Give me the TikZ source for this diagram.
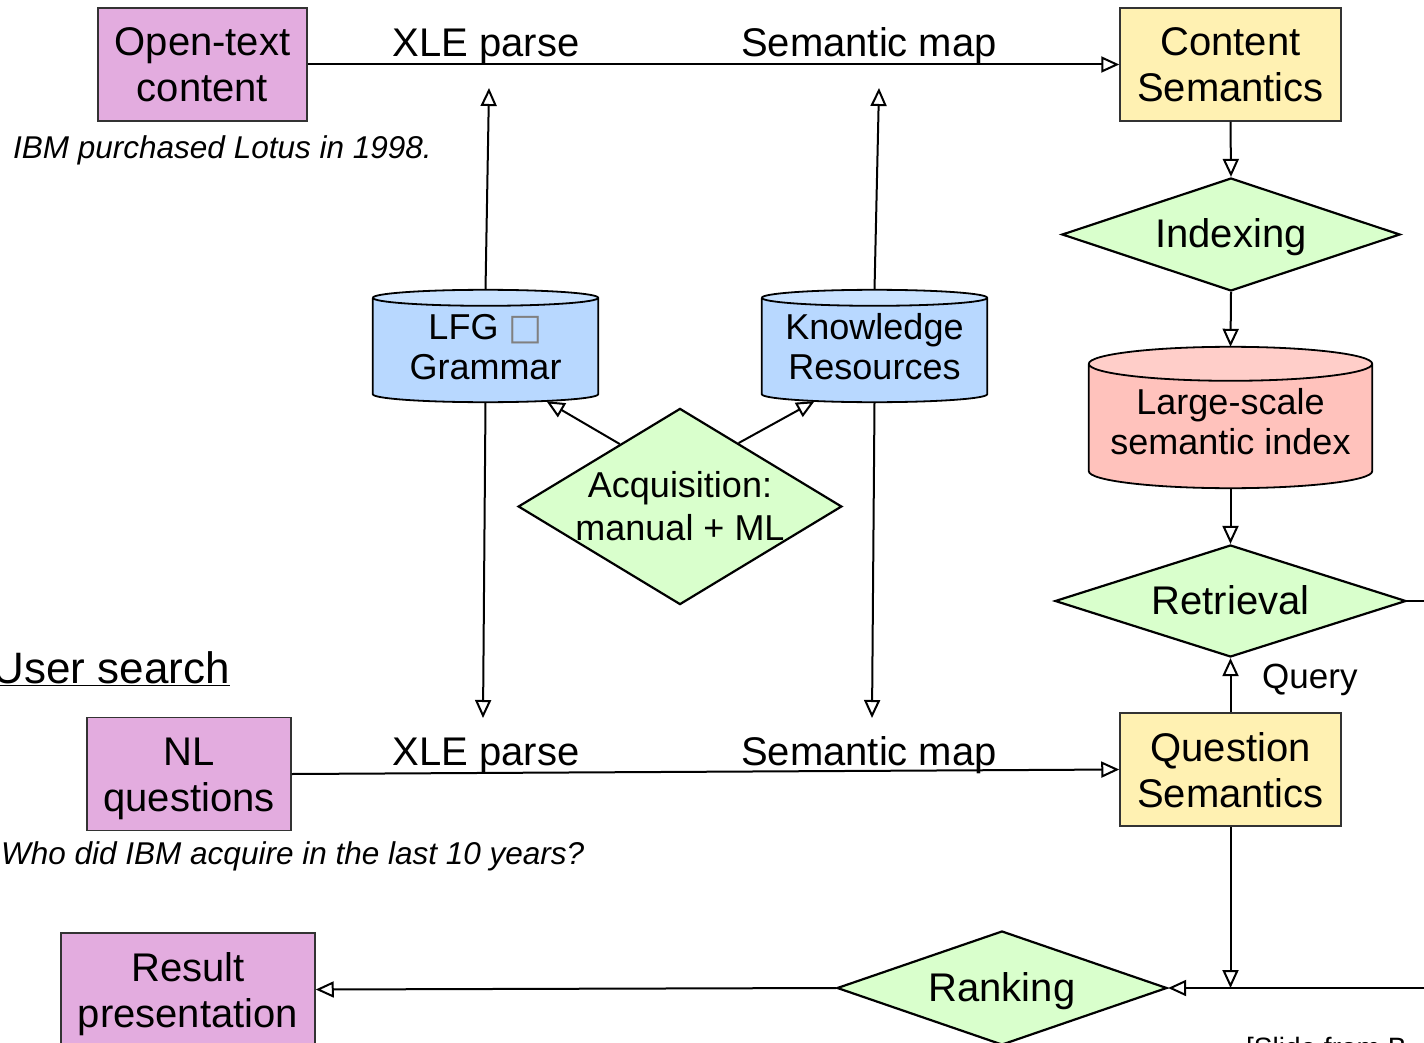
\documentclass[tikz,border=0pt]{standalone}
\usepackage{fontspec}
\setmainfont{Liberation Sans}
\newfontfamily\dvfont{DejaVu Sans}
\usetikzlibrary{shapes.geometric,arrows.meta,calc,backgrounds}
\definecolor{pinkc}{HTML}{E3ACDF}
\definecolor{yel}{HTML}{FFF1B2}
\definecolor{grn}{HTML}{D9FFCC}
\definecolor{blu}{HTML}{B8D8FF}
\definecolor{blutop}{HTML}{C9E2FF}
\definecolor{sal}{HTML}{FFC2BC}
\definecolor{saltop}{HTML}{FFCEC9}
\newcommand\sA{\rule[-10pt]{0pt}{49pt}}
\newcommand\sB{\rule[-10pt]{0pt}{45pt}}
\newcommand\sC[1]{\rule[-8pt]{0pt}{#1}}
\newcommand\drawcyl[4]{%
  \fill[#2] let \p1=(#1.north west), \p2=(#1.south east), \n1={(\x2-\x1)/2} in
    ({\x1},{\y1-#4}) -- ({\x1},{\y2+#4}) arc[start angle=180,end angle=360,x radius={\n1*1pt},y radius=#4]
    -- ({\x2},{\y1-#4}) arc[start angle=0,end angle=180,x radius={\n1*1pt},y radius=#4] -- cycle;
  \fill[#3] let \p1=(#1.north west), \p2=(#1.south east), \n1={(\x2-\x1)/2} in
    ({\x1},{\y1-#4}) arc[start angle=180,end angle=540,x radius={\n1*1pt},y radius=#4];
  \draw[cylline] let \p1=(#1.north west), \p2=(#1.south east), \n1={(\x2-\x1)/2} in
    ({\x1},{\y1-#4}) -- ({\x1},{\y2+#4}) arc[start angle=180,end angle=360,x radius={\n1*1pt},y radius=#4]
    -- ({\x2},{\y1-#4}) arc[start angle=0,end angle=180,x radius={\n1*1pt},y radius=#4]
    ({\x1},{\y1-#4}) arc[start angle=180,end angle=360,x radius={\n1*1pt},y radius=#4];
}
\begin{document}
\begin{tikzpicture}[x=1pt,y=-1pt,
  box/.style={draw=black!80,line width=1.5pt,inner sep=0pt,align=center,font=\fontsize{40}{46}\selectfont},
  dia/.style={diamond,draw=black,line width=2.2pt,fill=grn,inner sep=0pt,align=center},
  one/.style={font=\fontsize{40}{46}\selectfont,text height=29pt,text depth=3pt},
  cylnode/.style={inner sep=0pt,align=center,font=\fontsize{36}{40}\selectfont},
  cylline/.style={draw=black,line width=1.8pt},
  arr/.style={line width=2pt,-{Triangle[length=18pt,width=16pt,fill=white]}},
  ln/.style={line width=2pt},
  lbl/.style={font=\fontsize{40}{46}\selectfont,anchor=base,inner sep=0pt},
  ital/.style={font=\fontsize{31.5}{36}\selectfont\itshape,anchor=base west,inner sep=0pt}]
\useasboundingbox (0,0) rectangle (1424,1043);
\clip (0,0) rectangle (1424,1043);

% boxes
\node[box,fill=pinkc,minimum width=209pt,minimum height=113pt] (otc) at (202.5,64.5) {\sA Open-text\\\sB content};
\node[box,fill=yel,minimum width=221pt,minimum height=113pt] (cs) at (1230.5,64.5) {\sA Content\\\sB Semantics};
\node[box,fill=pinkc,minimum width=204pt,minimum height=113pt] (nlq) at (189,774) {\sA NL\\\sB questions};
\node[box,fill=yel,minimum width=221pt,minimum height=113pt] (qs) at (1230.5,769.5) {\sA Question\\\sB Semantics};
\node[box,fill=pinkc,minimum width=254pt,minimum height=113pt] (res) at (188,989.5) {\sA Result\\\sB presentation};

% diamonds
\node[dia,one,aspect=3,minimum width=338pt,minimum height=113pt] (idx) at (1231,234.5) {Indexing};
\node[dia,one,aspect=3.1,minimum width=351pt,minimum height=112pt] (ret) at (1230.5,601) {Retrieval};
\node[dia,one,aspect=2.9,minimum width=330pt,minimum height=114pt] (rank) at (1002,988) {Ranking};
\node[dia,aspect=1.65,minimum width=322pt,minimum height=195pt,font=\fontsize{36}{43}\selectfont] (acq) at (680,506.5) {Acquisition:\\manual + ML};

% cylinders
\node[cylnode,minimum width=225pt,minimum height=112pt] (lfg) at (485.5,346) {\sC{43pt}LFG {\dvfont\color{gray}□}\\\sC{40pt}Grammar};
\node[cylnode,minimum width=225pt,minimum height=112pt] (kr) at (874.5,346) {\sC{43pt}Knowledge\\\sC{40pt}Resources};
\node[cylnode,minimum width=283pt,minimum height=141pt] (lsi) at (1230.5,417.5) {\sC{49pt}Large-scale\\\sC{40pt}semantic index};
\begin{pgfonlayer}{background}
\drawcyl{lfg}{blu}{blutop}{8pt}
\drawcyl{kr}{blu}{blutop}{8pt}
\drawcyl{lsi}{sal}{saltop}{17pt}
\end{pgfonlayer}

% labels
\node[lbl] (xle1) at (486,57) {XLE parse};
\node[lbl] (sem1) at (869,57) {Semantic map};
\node[lbl] (xle2) at (486,765) {XLE parse};
\node[lbl] (sem2) at (869,765) {Semantic map};
\node[ital] (ex1) at (13,158.5) {IBM purchased Lotus in 1998.};
\node[ital] (ex2) at (1,864) {Who did IBM acquire in the last 10 years?};
\node[font=\fontsize{44}{50}\selectfont,anchor=base east,inner sep=0pt] (us) at (230,683) {\underline{User search}};
\node[font=\fontsize{35}{40}\selectfont,anchor=base west,inner sep=0pt] (query) at (1262,688) {Query};
\node[font=\fontsize{28}{32}\selectfont,anchor=north west,inner sep=0pt] (slide) at (1246,1037) {[Slide from B};

% free ends
\coordinate (lfgUp) at (489,88);
\coordinate (krUp) at (879,88);
\coordinate (lfgDn) at (483,718);
\coordinate (krDn) at (872,718);
\coordinate (retR) at (1424,601);
\coordinate (rankR) at (1424,988);
\coordinate (qsDn) at (1230.5,988);

% connectors
\draw[arr] (otc.east) -- (cs.west);
\draw[arr] (nlq.east) -- (qs.west);
\draw[arr] (lfg.north) -- (lfgUp);
\draw[arr] (kr.north) -- (krUp);
\draw[arr] (lfg.south) -- (lfgDn);
\draw[arr] (kr.south) -- (krDn);
\draw[arr] ($(acq.north)!0.37!(acq.west)$) -- ($(lfg.south)+(61,-1)$);
\draw[arr] ($(acq.north)!0.36!(acq.east)$) -- ($(kr.south)+(-60,-1)$);
\draw[arr] (cs.south) -- (idx.north);
\draw[arr] (idx.south) -- (lsi.north);
\draw[arr] (lsi.south) -- (ret.north);
\draw[arr] (qs.north) -- (ret.south);
\draw[ln] (ret.east) -- (retR);
\draw[arr] (qs.south) -- (qsDn);
\draw[arr] (rankR) -- (rank.east);
\draw[arr] (rank.west) -- (res.east);
\end{tikzpicture}
\end{document}
